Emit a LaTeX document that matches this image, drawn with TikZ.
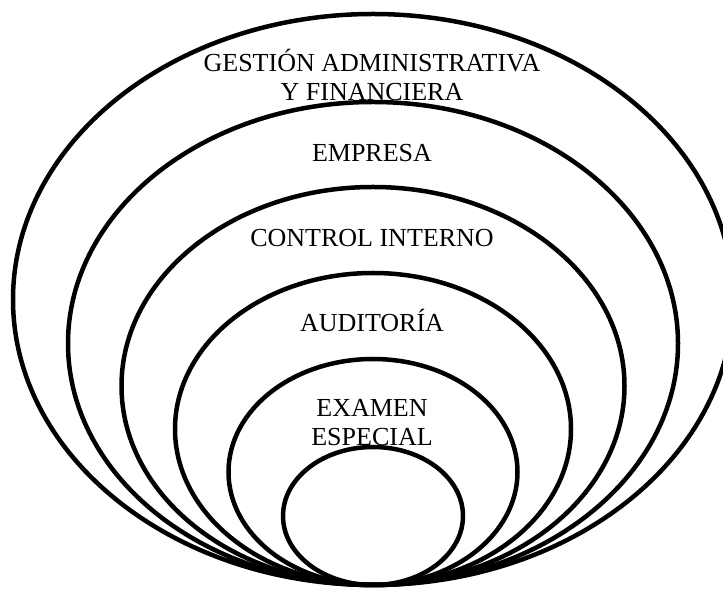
\documentclass[tikz,border=0pt]{standalone}
\usepackage{fontspec}
\setmainfont{Liberation Serif}
\begin{document}
\begin{tikzpicture}[x=1pt,y=1pt,
    ring/.style={line width=4.5pt},
    ringlabel/.style={font=\fontsize{26}{29}\selectfont, align=center, inner sep=0pt, anchor=base}]
    \useasboundingbox (0,0) rectangle (723,589);

    % Nested rings, all touching at the bottom
    \draw[ring] (373,289.5) ellipse (360 and 285.5);
    \draw[ring] (373,245.5) ellipse (305 and 241.5);
    \draw[ring] (373,203) ellipse (251.5 and 199);
    \draw[ring] (373,160) ellipse (198 and 156);
    \draw[ring] (373,117) ellipse (144.5 and 113);
    \draw[ring] (373,73) ellipse (90 and 69);

    % Labels of the rings (base = last line)
    \node[ringlabel] (gestion) at (372,488) {GESTIÓN ADMINISTRATIVA\\Y FINANCIERA};
    \node[ringlabel] (empresa) at (372,427) {EMPRESA};
    \node[ringlabel] (control) at (372,342) {CONTROL INTERNO};
    \node[ringlabel] (auditoria) at (372,257) {AUDITORÍA};
    \node[ringlabel] (examen) at (372,143) {EXAMEN\\ESPECIAL};
\end{tikzpicture}
\end{document}
